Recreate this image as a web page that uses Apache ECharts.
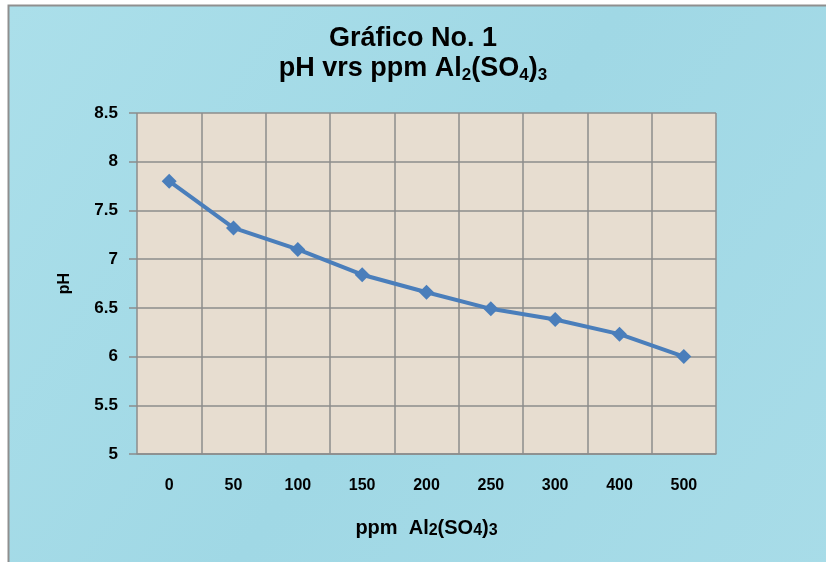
<!DOCTYPE html>
<html><head><meta charset="utf-8">
<script src="https://cdn.jsdelivr.net/npm/echarts@6/dist/echarts.min.js"></script>
<style>html,body{margin:0;padding:0;background:#fff}#c{width:826px;height:562px}</style>
</head><body><div id="c"></div>
<script>
const categories = ['0','50','100','150','200','250','300','400','500'];
const phValues = [7.8, 7.32, 7.1, 6.84, 6.66, 6.49, 6.38, 6.23, 6.0];
const yMin = 5, yMax = 8.5, yStep = 0.5;

const FF = 'Liberation Sans, Arial, sans-serif';
const chart = echarts.init(document.getElementById('c'));
chart.setOption({
  backgroundColor: '#fff',
  graphic: [{
    type: 'rect', shape: {x: 8.5, y: 5.5, width: 830, height: 570},
    style: {fill: {type:'linear',x:0,y:0,x2:1,y2:1,colorStops:[{offset:0,color:'#abdfea'},{offset:0.5,color:'#a0d8e5'},{offset:1,color:'#a8dce8'}]}, stroke: '#8f8f8f', lineWidth: 2},
    z: -10
  }],
  title: {
    text: '{a|Gráfico No. 1}\n{a|pH vrs ppm Al}{s|2}{a|(SO}{s|4}{a|)}{s|3}',
    left: 'center', top: 19,
    textStyle: {
      fontSize: 27, fontWeight: 'bold', color: '#000', lineHeight: 30, fontFamily: FF,
      rich: {
        a: {fontSize: 27, fontWeight: 'bold', fontFamily: FF, color: '#000', lineHeight: 30},
        s: {fontSize: 17, fontWeight: 'bold', fontFamily: FF, color: '#000', lineHeight: 30, padding: [12,0,0,0]}
      }
    }
  },
  grid: {left: 137, right: 110, top: 113, bottom: 108, backgroundColor: '#e7ddd0', show: true, borderWidth: 0},
  xAxis: {
    type: 'category', data: categories, boundaryGap: true,
    name: '{a|ppm  Al}{s|2}{a|(SO}{s|4}{a|)}{s|3}',
    nameLocation: 'middle', nameGap: 64,
    nameTextStyle: {
      rich: {
        a: {fontSize: 20, fontWeight: 'bold', fontFamily: FF, color: '#000'},
        s: {fontSize: 16, fontWeight: 'bold', fontFamily: FF, color: '#000', padding: [5,0,0,0]}
      }
    },
    axisLine: {show: true, lineStyle: {color: '#8c8c8c', width: 1.5}},
    axisTick: {show: false},
    axisLabel: {margin: 24, fontSize: 16, fontWeight: 'bold', color: '#000', fontFamily: FF},
    splitLine: {show: true, interval: 0, lineStyle: {color: '#8c8c8c', width: 1.5}}
  },
  yAxis: {
    type: 'value', min: yMin, max: yMax, interval: yStep,
    name: 'pH', nameLocation: 'middle', nameGap: 64, nameRotate: 90,
    nameTextStyle: {fontSize: 16, fontWeight: 'bold', color: '#000', fontFamily: FF},
    axisLine: {show: false},
    axisTick: {show: true, length: 8, lineStyle: {color: '#8c8c8c', width: 1.5}},
    axisLabel: {margin: 19, fontSize: 17, fontWeight: 'bold', color: '#000', fontFamily: FF},
    splitLine: {show: true, lineStyle: {color: '#8c8c8c', width: 1.5}}
  },
  series: [{
    type: 'line', data: phValues,
    symbol: 'diamond', symbolSize: 15,
    lineStyle: {color: '#4a7ebb', width: 4},
    itemStyle: {color: '#4a7ebb'},
    animation: false
  }]
});
</script></body></html>
